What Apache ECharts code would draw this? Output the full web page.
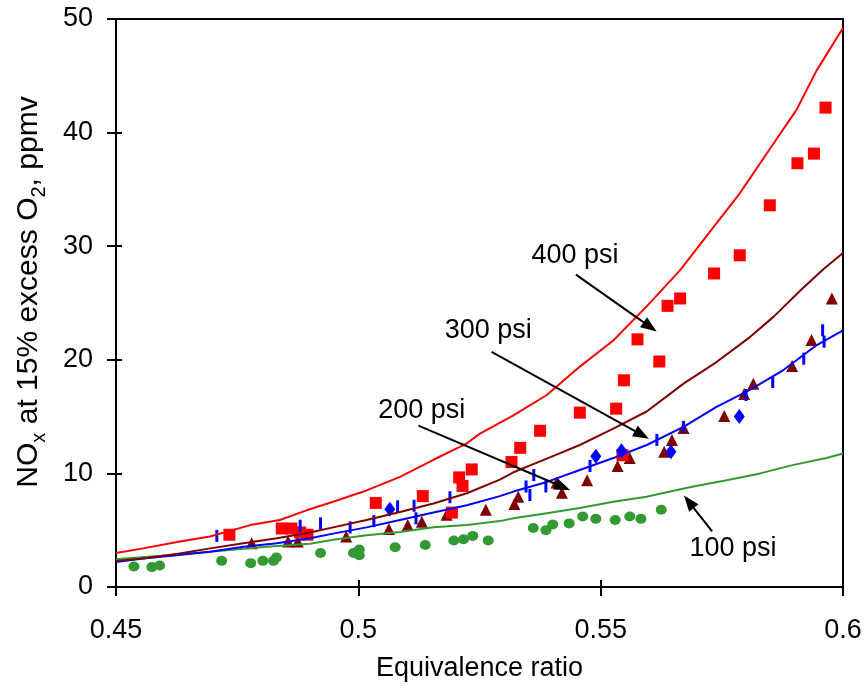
<!DOCTYPE html>
<html>
<head>
<meta charset="utf-8">
<script src="https://cdn.jsdelivr.net/npm/echarts@6/dist/echarts.min.js"></script>
<style>
  html, body { margin: 0; padding: 0; background: #fff; }
  #chart { width: 865px; height: 689px; }
</style>
</head>
<body>
<div id="chart"></div>
<script>
// Measured NOx (ppmv @ 15% O2) vs equivalence ratio, four combustor pressures
const pts100 = [[0.4537,1.8],[0.4574,1.75],[0.4590,1.9],[0.4718,2.3],[0.4778,2.1],[0.4803,2.3],[0.4825,2.3],[0.4831,2.6],[0.4922,3.0],[0.4990,3.0],[0.5002,3.3],[0.5002,2.8],[0.5076,3.5],[0.5138,3.7],[0.5197,4.1],[0.5217,4.2],[0.5236,4.5],[0.5268,4.1],[0.5361,5.2],[0.5387,5.0],[0.5401,5.5],[0.5435,5.6],[0.5463,6.2],[0.5490,6.0],[0.5530,5.9],[0.5560,6.2],[0.5583,6.0],[0.5625,6.8]];
const pts200a = [[0.5065,6.85],[0.5490,11.5],[0.5543,12.0],[0.5645,11.9],[0.5786,15.0]];
const pts200b = [[0.4708,4.5],[0.4880,5.4],[0.4922,5.6],[0.4983,5.25],[0.5032,5.8],[0.5081,7.1],[0.5115,7.15],[0.5119,6.05],[0.5189,7.9],[0.5346,8.85],[0.5354,8.1],[0.5362,9.85],[0.5387,8.85],[0.5478,10.65],[0.5616,12.95],[0.5671,14.1],[0.5800,16.9],[0.5855,18.05],[0.5919,20.1],[0.5958,22.6],[0.5961,21.6]];
const pts300 = [[0.4780,3.85],[0.4855,4.0],[0.4875,4.0],[0.4975,4.45],[0.5063,5.1],[0.5102,5.45],[0.5131,5.75],[0.5182,6.35],[0.5263,6.8],[0.5322,7.3],[0.5330,7.95],[0.5409,9.2],[0.5420,8.3],[0.5472,9.4],[0.5535,10.65],[0.5560,11.35],[0.5631,11.9],[0.5647,12.95],[0.5671,14.0],[0.5755,15.05],[0.5796,17.0],[0.5815,17.9],[0.5895,19.45],[0.5935,21.75],[0.5977,25.4]];
const pts400 = [[0.4734,4.6],[0.4842,5.15],[0.4862,5.15],[0.4880,4.8],[0.4895,4.6],[0.5036,7.4],[0.5133,8.0],[0.5193,6.55],[0.5208,9.65],[0.5215,8.9],[0.5234,10.35],[0.5316,11.0],[0.5334,12.25],[0.5375,13.75],[0.5457,15.35],[0.5532,15.7],[0.5545,11.6],[0.5548,18.2],[0.5576,21.8],[0.5621,19.85],[0.5638,24.75],[0.5664,25.4],[0.5734,27.6],[0.5787,29.2],[0.5849,33.6],[0.5906,37.3],[0.5940,38.15],[0.5964,42.2]];

// Model predictions
const model100 = [[0.45,2.45],[0.4593,2.75],[0.4694,3.1],[0.4797,3.5],[0.4900,3.8],[0.4948,4.15],[0.5017,4.55],[0.5086,4.85],[0.5155,5.25],[0.5224,5.45],[0.5292,5.8],[0.5320,6.05],[0.5389,6.5],[0.5457,6.95],[0.5526,7.5],[0.5595,7.95],[0.5622,8.2],[0.5691,8.85],[0.5760,9.4],[0.5829,10.0],[0.5898,10.75],[0.5966,11.35],[0.6,11.75]];
const model200 = [[0.45,2.2],[0.4556,2.5],[0.4625,2.8],[0.4694,3.1],[0.4763,3.55],[0.4832,3.85],[0.4900,4.3],[0.4948,4.7],[0.5017,5.25],[0.5086,5.9],[0.5155,6.55],[0.5224,7.2],[0.5292,8.0],[0.5320,8.4],[0.5389,9.25],[0.5457,10.3],[0.5526,11.35],[0.5595,12.5],[0.5671,14.1],[0.5739,15.85],[0.5808,17.35],[0.5877,19.1],[0.5946,21.3],[0.6,22.6]];
const model300 = [[0.45,2.3],[0.4556,2.5],[0.4625,2.9],[0.4694,3.4],[0.4763,3.85],[0.4832,4.3],[0.4900,4.8],[0.4948,5.25],[0.5017,5.9],[0.5086,6.6],[0.5155,7.35],[0.5224,8.25],[0.5292,9.45],[0.5320,10.1],[0.5389,11.3],[0.5457,12.5],[0.5526,13.95],[0.5595,15.45],[0.5671,17.9],[0.5739,19.8],[0.5808,22.0],[0.5857,23.8],[0.5912,26.1],[0.5960,28.0],[0.6,29.4]];
const model400 = [[0.45,3.0],[0.4556,3.4],[0.4632,4.0],[0.4694,4.45],[0.4777,5.45],[0.4838,5.9],[0.4893,6.75],[0.4948,7.5],[0.5017,8.5],[0.5086,9.7],[0.5155,11.2],[0.5224,12.65],[0.5251,13.5],[0.5320,15.1],[0.5389,16.9],[0.5457,19.4],[0.5526,21.7],[0.5595,24.7],[0.5664,27.9],[0.5724,31.2],[0.5787,34.65],[0.5856,39.0],[0.5904,42.0],[0.5946,45.5],[0.6,49.2]];

// Annotation callouts: label position, arrow tail, arrow head
const callouts = [
  { text: '400 psi', at: [0.5447, 29.2], from: [0.5449, 27.5], to: [0.5602, 22.9] },
  { text: '300 psi', at: [0.5268, 22.6], from: [0.5275, 20.7], to: [0.5585, 13.4] },
  { text: '200 psi', at: [0.5131, 15.5], from: [0.5124, 14.2], to: [0.5422, 8.8] },
  { text: '100 psi', at: [0.5773, 3.35], from: [0.5730, 4.9], to: [0.5682, 7.5] }
];

const xTickLabels = ['0.45', '0.5', '0.55', '0.6'];
const yTickLabels = ['0', '10', '20', '30', '40', '50'];

const FONT = 'Liberation Sans, Arial, sans-serif';
const FS = 27;
const RED = '#ff0000', DARKRED = '#800000', BLUE = '#0000ff', GREEN = '#339933';

const chart = echarts.init(document.getElementById('chart'), null, { renderer: 'canvas' });

function lineSeries(data, color) {
  return { type: 'line', data: data, showSymbol: false, symbol: 'none', z: 4,
    lineStyle: { color: color, width: 2 }, animation: false, silent: true };
}
function scatterSeries(data, color, symbol, size) {
  return { type: 'scatter', data: data, symbol: symbol, symbolSize: size, z: 3,
    itemStyle: { color: color, opacity: 1 }, animation: false, silent: true };
}

const xBase = { type: 'value', min: 0.45, max: 0.6, interval: 0.05, position: 'bottom', gridIndex: 0 };
const yBase = { type: 'value', min: 0, max: 50, interval: 10, position: 'left', gridIndex: 0 };

const option = {
  backgroundColor: '#fff',
  animation: false,
  grid: { left: 116, right: 22, top: 19, bottom: 102, show: true, borderColor: '#000', borderWidth: 2, backgroundColor: 'transparent' },
  xAxis: [
    Object.assign({}, xBase, {
      name: 'Equivalence ratio', nameLocation: 'middle', nameGap: 68,
      nameTextStyle: { fontFamily: FONT, fontSize: FS, color: '#000' },
      axisLine: { show: true, lineStyle: { color: '#000', width: 2 } },
      axisTick: { show: true, inside: false, length: 9, lineStyle: { color: '#000', width: 2 } },
      axisLabel: { margin: 30, fontFamily: FONT, fontSize: FS, color: '#000',
        formatter: (v) => xTickLabels[Math.round((v - 0.45) / 0.05)] },
      splitLine: { show: false }
    }),
    Object.assign({}, xBase, {
      axisLine: { show: false },
      axisTick: { show: true, inside: true, length: 7, lineStyle: { color: '#000', width: 2 } },
      axisLabel: { show: false }, splitLine: { show: false }
    })
  ],
  yAxis: [
    Object.assign({}, yBase, {
      name: '{a|NO}{s|x}{a| at 15% excess O}{s|2}{a|, ppmv}',
      nameLocation: 'middle', nameGap: 72,
      nameTextStyle: { color: '#000', padding: [0, 0, 0, 22], rich: {
        a: { fontFamily: FONT, fontSize: 30, color: '#000', lineHeight: 34, verticalAlign: 'bottom' },
        s: { fontFamily: FONT, fontSize: 20, color: '#000', lineHeight: 34, verticalAlign: 'bottom', padding: [0, 0, -5, 0] }
      } },
      axisLine: { show: true, lineStyle: { color: '#000', width: 2 } },
      axisTick: { show: true, inside: false, length: 9, lineStyle: { color: '#000', width: 2 } },
      axisLabel: { margin: 23, fontFamily: FONT, fontSize: FS, color: '#000',
        formatter: (v) => yTickLabels[Math.round(v / 10)] },
      splitLine: { show: false }
    }),
    Object.assign({}, yBase, {
      axisLine: { show: false },
      axisTick: { show: true, inside: true, length: 6, lineStyle: { color: '#000', width: 2 } },
      axisLabel: { show: false }, splitLine: { show: false }
    })
  ],
  series: [
    scatterSeries(pts100, GREEN, 'circle', [11, 10]),
    scatterSeries(pts300, DARKRED, 'triangle', 12),
    scatterSeries(pts400, RED, 'rect', 12),
    scatterSeries(pts200a, BLUE, 'diamond', [11, 15]),
    scatterSeries(pts200b, BLUE, 'rect', [3, 12]),
    lineSeries(model100, GREEN),
    lineSeries(model200, BLUE),
    lineSeries(model300, DARKRED),
    lineSeries(model400, RED),
    {
      type: 'scatter', data: [], z: 6, silent: true, animation: false,
      markLine: {
        silent: true, animation: false, symbol: ['none', 'triangle'], symbolSize: [12, 16],
        lineStyle: { color: '#000', width: 2, type: 'solid' },
        label: { show: false },
        data: callouts.map(c => [{ coord: c.from }, { coord: c.to }])
      },
      markPoint: {
        silent: true, animation: false, symbol: 'circle', symbolSize: 0,
        label: { show: true, position: 'inside', fontFamily: FONT, fontSize: FS, color: '#000',
          formatter: (p) => p.name },
        data: callouts.map(c => ({ name: c.text, coord: c.at }))
      }
    }
  ]
};
chart.setOption(option);
</script>
</body>
</html>
